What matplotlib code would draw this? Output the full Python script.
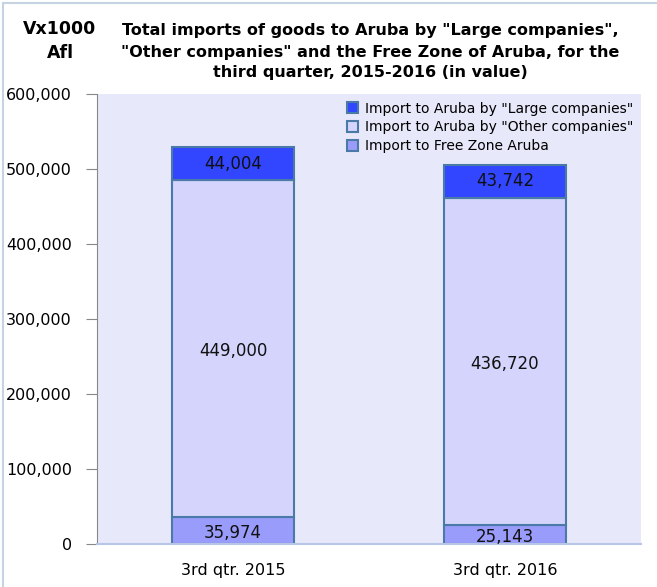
import matplotlib
matplotlib.use("Agg")
import matplotlib.pyplot as plt
from matplotlib.lines import Line2D

categories = ["3rd qtr. 2015", "3rd qtr. 2016"]
free_zone = [35974, 25143]
other_companies = [449000, 436720]
large_companies = [44004, 43742]
series_names = ['Import to Aruba by "Large companies"',
                'Import to Aruba by "Other companies"',
                'Import to Free Zone Aruba']
yticks = [0, 100000, 200000, 300000, 400000, 500000, 600000]

c_large = "#3245FF"
c_other = "#D4D4FC"
c_free = "#9A9CFB"
edge = "#4A7AA6"

fig = plt.figure(figsize=(6.57, 5.87), dpi=100)
ax = fig.add_axes([97/657, 1-544/587, 544/657, 450/587])
ax.set_facecolor("#E7E9FA")

x = list(range(len(categories)))
w = 0.45
b1 = ax.bar(x, free_zone, w, color=c_free, edgecolor=edge, linewidth=1.5, label=series_names[2])
b2 = ax.bar(x, other_companies, w, bottom=free_zone, color=c_other, edgecolor=edge, linewidth=1.5, label=series_names[1])
bot3 = [a + b for a, b in zip(free_zone, other_companies)]
b3 = ax.bar(x, large_companies, w, bottom=bot3, color=c_large, edgecolor=edge, linewidth=1.5, label=series_names[0])

for i in x:
    ax.text(i, free_zone[i] / 2 - 3000, f"{free_zone[i]:,}", ha="center", va="center", fontsize=12, color="#111111")
    ax.text(i, free_zone[i] + other_companies[i] / 2 - 3000, f"{other_companies[i]:,}", ha="center", va="center", fontsize=12, color="#111111")
    ax.text(i, bot3[i] + large_companies[i] / 2, f"{large_companies[i]:,}", ha="center", va="center", fontsize=12, color="#111111")

ax.set_xlim(-0.5, 1.5)
ax.set_ylim(0, 600000)
ax.set_yticks(yticks)
ax.set_yticklabels([f"{v:,}" for v in yticks], fontsize=11.5)
ax.set_xticks(x)
ax.set_xticklabels(categories, fontsize=11.5)
ax.tick_params(axis="x", length=0, pad=14)
ax.tick_params(axis="y", length=8, color="#888888", pad=10)
for s in ["top", "right"]:
    ax.spines[s].set_visible(False)
ax.spines["left"].set_color("#888888")
ax.spines["bottom"].set_color("#B8C6E6")
ax.spines["bottom"].set_linewidth(1.5)

handles = [b3, b2, b1]
leg = ax.legend(handles, [series_names[0], series_names[1], series_names[2]],
                loc="upper right", bbox_to_anchor=(1.0, 1.0), frameon=False,
                fontsize=10, handlelength=0.8, handleheight=0.8, handletextpad=0.5,
                labelspacing=0.35, borderaxespad=0.15)

fig.text(370/657, 1-52/587, 'Total imports of goods to Aruba by "Large companies",\n"Other companies" and the Free Zone of Aruba, for the\nthird quarter, 2015-2016 (in value)',
         ha="center", va="center", fontsize=11.5, fontweight="bold", linespacing=1.5)
fig.text(60/657, 1-41/587, "Vx1000\nAfl", ha="center", va="center", fontsize=12.5,
         fontweight="bold", linespacing=1.45)

fig.add_artist(Line2D([3/657, 1], [1-3/587, 1-3/587], color="#C5D3E3", linewidth=1.5, transform=fig.transFigure))
fig.add_artist(Line2D([3/657, 3/657], [0, 1-3/587], color="#C5D3E3", linewidth=1.5, transform=fig.transFigure))

fig.savefig("out.png", dpi=100)
